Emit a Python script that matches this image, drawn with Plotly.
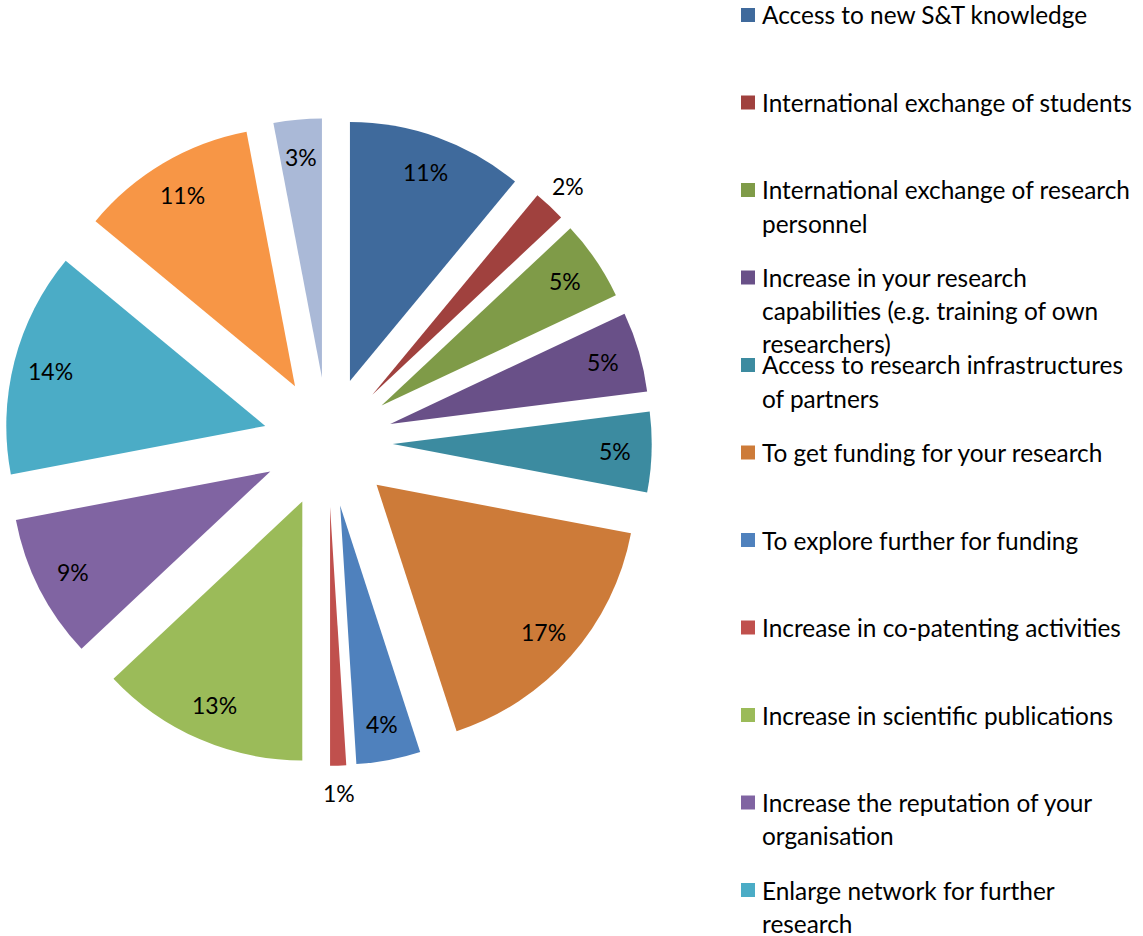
import math
import plotly.graph_objects as go

# ---- data ----
categories = [
    "Access to new S&T knowledge",
    "International exchange of students",
    "International exchange of research personnel",
    "Increase in your research capabilities (e.g. training of own researchers)",
    "Access to research infrastructures of partners",
    "To get funding for your research",
    "To explore further for funding",
    "Increase in co-patenting activities",
    "Increase in scientific publications",
    "Increase the reputation of your organisation",
    "Enlarge network for further research",
    "Other benefits",
    "Other",
]
values = [11, 2, 5, 5, 5, 17, 4, 1, 13, 9, 14, 11, 3]
# legend text as wrapped in the reference (only the first 11 entries are visible)
legend_lines = [
    ["Access to new S&T knowledge"],
    ["International exchange of students"],
    ["International exchange of research", "personnel"],
    ["Increase in your research", "capabilities (e.g. training of own", "researchers)"],
    ["Access to research infrastructures", "of partners"],
    ["To get funding for your research"],
    ["To explore further for funding"],
    ["Increase in co-patenting activities"],
    ["Increase in scientific publications"],
    ["Increase the reputation of your", "organisation"],
    ["Enlarge network for further", "research"],
]
colors = ["#3F6A9C", "#A0413E", "#7F9B48", "#695088", "#3C8BA0", "#CD7B39",
          "#4F81BD", "#C0504D", "#9BBB59", "#8064A2", "#4BACC6", "#F79646", "#AAB9D7"]

# ---- layout constants (page pixels) ----
W, H = 1143, 936
CX, CY, R, PULL = 328.0, 442.0, 259.0, 0.25
HALF = R * (1 + PULL)
FONT = "Lato, Carlito, 'Open Sans', sans-serif"


def px(x):
    return x / W


def py(y):
    return 1 - y / H


fig = go.Figure()
fig.add_trace(go.Pie(
    labels=categories,
    values=values,
    sort=False,
    direction="clockwise",
    rotation=0,
    pull=[PULL] * len(values),
    marker=dict(colors=colors, line=dict(width=0)),
    textinfo="none",
    hoverinfo="label+percent",
    showlegend=False,
    domain=dict(x=[px(CX - HALF), px(CX + HALF)], y=[py(CY + HALF), py(CY - HALF)]),
))

# ---- percentage labels, placed from the cumulative data ----
total = sum(values)
annotations = []
cum = 0
for v in values:
    a0 = cum / total * 360
    cum += v
    a1 = cum / total * 360
    mid = math.radians((a0 + a1) / 2)
    dx, dy = math.sin(mid), -math.cos(mid)
    ax, ay = CX + PULL * R * dx, CY + PULL * R * dy
    frac = 0.857 if v >= 3 else 1.105
    lx, ly = ax + frac * R * dx, ay + frac * R * dy
    annotations.append(dict(
        x=px(lx), y=py(ly), xref="paper", yref="paper",
        text=f"{round(v / total * 100)}%", showarrow=False,
        xanchor="center", yanchor="middle",
        font=dict(family=FONT, size=23, color="#000000"),
    ))

# ---- legend (drawn manually: fixed spacing as in the reference) ----
shapes = []
LX0, TX0, Y0, STEP, LINE = 741, 760, 15, 87.5, 33
for i, lines in enumerate(legend_lines):
    yc = Y0 + i * STEP
    shapes.append(dict(type="rect", xref="paper", yref="paper",
                       x0=px(LX0), x1=px(LX0 + 14), y0=py(yc - 7), y1=py(yc + 7),
                       fillcolor=colors[i], line=dict(width=0)))
    for j, t in enumerate(lines):
        annotations.append(dict(
            x=px(TX0), y=py(yc + j * LINE), xref="paper", yref="paper",
            text=t, showarrow=False, xanchor="left", yanchor="middle",
            font=dict(family=FONT, size=24.4, color="#000000"),
        ))

fig.update_layout(
    width=W, height=H,
    margin=dict(l=0, r=0, t=0, b=0),
    paper_bgcolor="white", plot_bgcolor="white",
    annotations=annotations, shapes=shapes,
)

# remove the browser's default 8px body margin so the figure fills the window
fig.write_html("out.html",
               config={"displayModeBar": False},
               post_script="document.body.style.margin='0';document.body.style.overflow='hidden';")
